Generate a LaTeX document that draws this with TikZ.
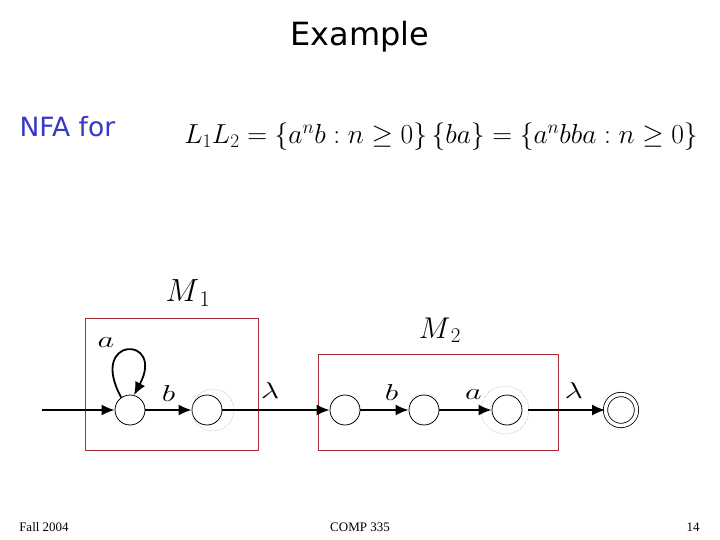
\RequirePackage{fix-cm}
\documentclass[tikz,border=0pt]{standalone}
\usepackage{fontspec}
\setmainfont{Liberation Serif}
\newfontfamily\titlefont{DejaVu Sans}
\usepackage{tikz}
\usetikzlibrary{arrows.meta,positioning,calc}

\definecolor{boxred}{RGB}{170,45,50}
\definecolor{nfablue}{RGB}{55,55,200}
\newcommand{\symlab}[1]{\scalebox{1.4}[1]{$#1$}}

\begin{document}
\begin{tikzpicture}[
  x=1pt, y=-1pt,
  >=Latex,
  state/.style={draw, circle, line width=0.8pt, minimum size=30pt, inner sep=0pt},
  accept/.style={state, double, double distance=3.5pt, minimum size=31pt},
  ghost/.style={draw=gray!60, densely dotted, line width=0.6pt},
  machine/.style={draw=boxred, line width=0.9pt},
  edge/.style={->, line width=1.8pt, >={Latex[length=13pt,width=11pt]}},
  lbl/.style={font=\fontsize{23}{27}\selectfont, inner sep=0pt}
]
\useasboundingbox (0,0) rectangle (720,540);

% titles
\node[font=\titlefont\fontsize{32}{38}\selectfont] (title) at (360,37) {Example};
\node[font=\titlefont\fontsize{26.5}{31}\selectfont, text=nfablue, anchor=west] (nfa) at (16,127) {NFA for};
\node[font=\fontsize{27.5}{33}\selectfont] (lang) at (441,137)
  {$L_1L_2=\{a^nb:n\geq 0\}\,\{ba\}=\{a^nbba:n\geq 0\}$};

% machine boxes
\draw[machine] (85,318) rectangle (258,450);
\draw[machine] (318,354) rectangle (558,450);
\node[font=\fontsize{32}{38}\selectfont] (m1) at (188,293) {$M_{\,1}$};
\node[font=\fontsize{30}{36}\selectfont] (m2) at (440,330) {$M_{\,2}$};

% states
\node[state] (q0) at (130,410) {};
\node[state] (q1) at (207,410) {};
\node[state] (q2) at (345,410) {};
\node[state] (q3) at (424,410) {};
\node[state] (q4) at (507,410) {};
\node[accept] (qf) at (621,410) {};
\coordinate (start) at (42,410);

% old final states
\draw[ghost] ($(q1)+(6,0)$) circle (21);
\draw[ghost] ($(q4)+(-2,0)$) circle (24);

% transitions
\draw[edge] (start) -- (q0);
\draw[edge] (q0.125) .. controls +(-34,-62) and +(32,-60) .. (q0.75);
\node[lbl] (la) at (106,343) {\symlab{a}};
\draw[edge] (q0) -- node[lbl, above=8pt] (lb1) {\symlab{b}} (q1);
\draw[edge] (q1) -- node[lbl, above=11pt, xshift=-6pt] (ll1) {\symlab{\lambda}} (q2);
\draw[edge] (q2) -- node[lbl, above=9pt, xshift=7pt] (lb2) {\symlab{b}} (q3);
\draw[edge] (q3) -- node[lbl, above=10pt, xshift=8pt] (la2) {\symlab{a}} (q4);
\draw[edge] ($(q4.east)+(6,0)$) -- node[lbl, above=11pt, xshift=7pt] (ll2) {\symlab{\lambda}} (qf);

% footer
\node[font=\fontsize{13}{16}\selectfont] (f1) at (44,527) {Fall 2004};
\node[font=\fontsize{13}{16}\selectfont] (f2) at (360,527) {COMP 335};
\node[font=\fontsize{13}{16}\selectfont] (f3) at (693,527) {14};
\end{tikzpicture}
\end{document}
